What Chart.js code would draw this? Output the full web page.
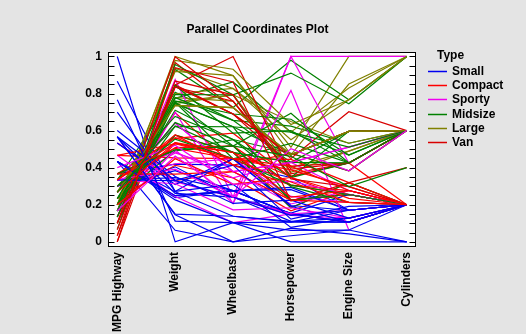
<!DOCTYPE html>
<html>
<head>
<meta charset="utf-8">
<script src="https://cdn.jsdelivr.net/npm/chart.js@4.4.1/dist/chart.umd.min.js"></script>
<style>
  html, body { margin: 0; padding: 0; background: #E4E4E4; }
  #wrap { width: 526px; height: 334px; }
</style>
</head>
<body>
<div id="wrap"><canvas id="c" width="526" height="334"></canvas></div>
<script>
// ---- Data (93 cars) ----
const axisNames = ['MPG Highway', 'Weight', 'Wheelbase', 'Horsepower', 'Engine Size', 'Cylinders'];
const typeNames = ['Small', 'Compact', 'Sporty', 'Midsize', 'Large', 'Van'];
const typeColors = ['#0000F0', '#FF0000', '#F000F0', '#008000', '#808000', '#D80000'];

const carType = [
 'Small','Midsize','Compact','Midsize','Midsize','Midsize','Large','Large','Midsize','Large',
 'Midsize','Compact','Compact','Sporty','Midsize','Van','Van','Large','Sporty','Large',
 'Compact','Large','Small','Small','Compact','Van','Midsize','Sporty','Small','Large',
 'Small','Small','Compact','Sporty','Sporty','Van','Midsize','Large','Small','Sporty',
 'Sporty','Small','Compact','Small','Small','Sporty','Midsize','Midsize','Midsize','Midsize',
 'Midsize','Large','Small','Small','Compact','Van','Sporty','Compact','Midsize','Sporty',
 'Midsize','Small','Midsize','Small','Compact','Van','Midsize','Compact','Midsize','Van',
 'Large','Sporty','Small','Compact','Sporty','Midsize','Large','Compact','Small','Small',
 'Small','Compact','Small','Small','Sporty','Midsize','Van','Small','Van','Compact',
 'Sporty','Compact','Midsize'];

const mpgHighway = [
 31,25,26,26,30,31,28,25,27,25, 25,36,34,28,29,23,20,26,25,28,
 28,26,33,29,27,21,27,24,33,28, 33,30,27,29,30,20,30,26,50,36,
 31,46,31,33,29,34,27,22,24,23, 26,26,37,36,34,24,25,29,25,30,
 26,33,24,38,30,23,26,31,31,23, 28,30,41,31,28,27,28,26,37,37,
 30,30,43,37,32,29,22,33,21,30, 25,28,28];

const weight = [
 2705,3560,3375,3405,3640,2880,3470,4105,3495,3620, 3935,2490,2785,3240,3195,3715,4025,3910,3380,3515,
 3085,3570,2270,2670,2970,3705,3080,3805,2295,3490, 1845,2530,2690,2850,2710,3735,3325,3950,1695,2475,
 2865,2350,3040,2345,2620,2285,2885,4000,3510,3515, 3570,4055,2325,2440,2970,3735,2895,2920,3525,2450,
 3610,2295,3730,2545,3050,4100,3200,2910,2890,3715, 3470,2640,2350,2575,3240,3495,3470,2775,2495,2045,
 2490,3085,1965,2055,2950,3030,3785,2240,3960,2985, 2810,2985,3245];

const wheelbase = [
 102,115,102,106,109,105,111,116,108,114, 111,101,103,101,108,110,111,116,96,113,
 104,112,98,97,104,112,104,97,98,113, 90,98,100,101,103,119,106,114,93,97,
 100,103,107,94,98,93,106,113,103,105, 109,117,97,103,103,110,96,105,110,95,
 113,98,107,96,103,112,104,103,105,110, 111,97,99,101,101,108,111,99,102,90,
 97,102,93,94,99,103,113,93,115,103, 97,104,105];

const horsepower = [
 140,200,172,172,208,110,170,180,170,200, 295,110,110,160,110,170,165,170,300,153,
 141,147,92,93,100,142,100,300,92,214, 63,127,96,105,115,145,140,190,55,90,
 160,102,140,81,124,92,128,278,185,225, 160,210,82,103,164,155,255,130,217,100,
 140,92,202,110,150,151,160,155,110,170, 170,92,74,110,160,200,170,140,85,73,
 90,130,70,82,135,130,138,81,109,134, 178,114,168];

const engineSize = [
 1.8,3.2,2.8,2.8,3.5,2.2,3.8,5.7,3.8,4.9, 4.6,2.2,2.2,3.4,2.2,3.8,4.3,5.0,5.7,3.3,
 3.0,3.3,1.5,2.2,2.5,3.0,2.5,3.0,1.5,3.5, 1.3,1.8,2.3,2.3,2.0,3.0,3.0,4.6,1.0,1.6,
 2.3,1.5,2.2,1.5,1.8,1.5,2.0,4.5,3.0,3.0, 3.8,4.6,1.6,1.8,2.5,3.0,1.3,2.3,3.2,1.6,
 3.8,1.5,3.0,1.6,2.4,3.0,3.0,2.3,2.2,3.8, 3.8,1.8,1.6,2.0,3.4,3.4,3.8,2.1,1.9,1.2,
 1.8,2.2,1.3,1.5,2.2,2.2,2.4,1.8,2.5,2.0, 2.8,2.3,2.4];

const cylinders = [
 4,6,6,6,6,4,6,8,6,8, 8,4,4,6,4,6,6,8,8,6,
 4,6,4,4,4,6,4,6,4,6, 4,4,4,4,4,6,6,8,3,4,
 4,4,4,4,4,4,4,8,6,6, 6,8,4,4,4,6,null,4,6,4,
 6,4,6,4,4,6,6,4,4,6, 6,4,4,4,6,6,6,4,4,3,
 4,4,3,4,4,4,4,4,5,4, 6,4,5];

const yTicks = [0, 0.2, 0.4, 0.6, 0.8, 1];

// ---- Build normalized lines ----
const columns = [mpgHighway, weight, wheelbase, horsepower, engineSize, cylinders];
const ranges = columns.map(col => {
  const v = col.filter(x => x !== null);
  return [Math.min(...v), Math.max(...v)];
});
const N = carType.length;
const datasets = [];
for (let i = 0; i < N; i++) {
  const pts = columns.map((col, j) => {
    const v = col[i];
    const [lo, hi] = ranges[j];
    return { x: j, y: v === null ? null : (v - lo) / (hi - lo) };
  });
  datasets.push({
    label: carType[i],
    data: pts,
    borderColor: typeColors[typeNames.indexOf(carType[i])],
    borderWidth: 1.2,
    pointRadius: 0,
    pointHitRadius: 0,
    tension: 0,
    fill: false,
    spanGaps: false,
    order: N - i
  });
}

const FONT = { family: '"Liberation Sans", Arial, Helvetica, sans-serif', size: 12, weight: 'bold' };
const fontStr = 'bold 12px "Liberation Sans", Arial, Helvetica, sans-serif';

const decor = {
  id: 'decor',
  beforeDraw(chart) {
    const { ctx, chartArea: a } = chart;
    ctx.save();
    ctx.fillStyle = '#E4E4E4';
    ctx.fillRect(0, 0, chart.width, chart.height);
    ctx.fillStyle = '#FFFFFF';
    ctx.fillRect(a.left, a.top, a.right - a.left, a.bottom - a.top);
    ctx.restore();
  },
  afterDraw(chart) {
    const { ctx, chartArea: a, scales } = chart;
    const y = scales.y;
    ctx.save();
    ctx.strokeStyle = '#000';
    ctx.lineWidth = 1;
    const L = Math.round(a.left) + 0.5, R = Math.round(a.right) - 0.5;
    const T = Math.round(a.top) + 0.5, B = Math.round(a.bottom) - 0.5;
    ctx.strokeRect(L, T, R - L, B - T);
    ctx.beginPath();
    for (let k = 0; k <= 20; k++) {
      const py = Math.round(y.getPixelForValue(k * 0.05)) + 0.5;
      ctx.moveTo(L, py); ctx.lineTo(L + 6, py);
      ctx.moveTo(R, py); ctx.lineTo(R - 6, py);
    }
    ctx.stroke();
    // legend
    ctx.font = fontStr;
    ctx.textBaseline = 'middle';
    ctx.textAlign = 'left';
    const lx = Math.round(a.right) + 12;
    ctx.fillStyle = '#000';
    ctx.fillText('Type', lx + 9, a.top + 4);
    for (let i = 0; i < typeNames.length; i++) {
      const yy = Math.round(a.top + 19 + i * 14.2) + 0.5;
      ctx.beginPath();
      ctx.strokeStyle = typeColors[i];
      ctx.lineWidth = 1.5;
      ctx.moveTo(lx, yy);
      ctx.lineTo(lx + 19, yy);
      ctx.stroke();
      ctx.fillStyle = '#000';
      ctx.fillText(typeNames[i], lx + 24, yy);
    }
    ctx.restore();
  }
};

new Chart(document.getElementById('c'), {
  type: 'line',
  data: { datasets },
  plugins: [decor],
  options: {
    responsive: false,
    animation: false,
    events: [],
    layout: { padding: { left: 0, right: 11, top: 0, bottom: 0 } },
    plugins: {
      legend: { display: false },
      tooltip: { enabled: false },
      title: {
        display: true,
        text: 'Parallel Coordinates Plot',
        color: '#000',
        font: FONT,
        padding: { top: 22, bottom: 15.6 }
      }
    },
    scales: {
      x: {
        type: 'linear',
        min: -0.16, max: 5.16,
        afterBuildTicks: s => { s.ticks = axisNames.map((_, i) => ({ value: i })); },
        afterFit: s => { s.height = 87; },
        ticks: {
          autoSkip: false, maxRotation: 90, minRotation: 90, padding: 5,
          color: '#000', font: FONT,
          callback: v => axisNames[v]
        },
        grid: { display: false, drawTicks: false },
        border: { display: false }
      },
      y: {
        type: 'linear',
        min: -0.028, max: 1.024,
        afterBuildTicks: s => { s.ticks = yTicks.map(v => ({ value: v })); },
        afterFit: s => { s.width = 108; },
        ticks: {
          padding: 6, color: '#000', font: FONT,
          callback: v => String(+(+v).toFixed(1))
        },
        grid: { display: false, drawTicks: false },
        border: { display: false }
      },
      y2: {
        type: 'linear',
        position: 'right',
        min: -0.028, max: 1.024,
        afterFit: s => { s.width = 99; },
        ticks: { display: false },
        grid: { display: false, drawTicks: false },
        border: { display: false }
      }
    }
  }
});
</script>
</body>
</html>
